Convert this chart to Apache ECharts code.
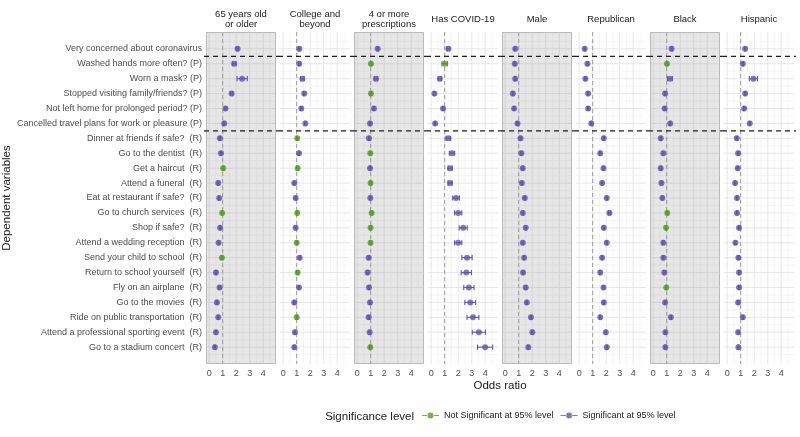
<!DOCTYPE html>
<html>
<head>
<meta charset="utf-8">
<title>Odds ratios by group</title>
<script src="https://cdn.jsdelivr.net/npm/echarts@6.0.0/dist/echarts.min.js"></script>
<style>
  html, body { margin: 0; padding: 0; background: #fff; }
  #chart { width: 800px; height: 437px; }
</style>
</head>
<body>
<div id="chart"></div>
<script>
// dependent variables, top to bottom
const rows = [
  'Very concerned about coronavirus',
  'Washed hands more often? (P)',
  'Worn a mask? (P)',
  'Stopped visiting family/friends? (P)',
  'Not left home for prolonged period? (P)',
  'Cancelled travel plans for work or pleasure (P)',
  'Dinner at friends if safe?  (R)',
  'Go to the dentist  (R)',
  'Get a haircut  (R)',
  'Attend a funeral  (R)',
  'Eat at restaurant if safe?  (R)',
  'Go to church services  (R)',
  'Shop if safe?  (R)',
  'Attend a wedding reception  (R)',
  'Send your child to school  (R)',
  'Return to school yourself  (R)',
  'Fly on an airplane  (R)',
  'Go to the movies  (R)',
  'Ride on public transportation  (R)',
  'Attend a professional sporting event  (R)',
  'Go to a stadium concert  (R)'
];

const panelTitles = ['65 years old\nor older', 'College and\nbeyond', '4 or more\nprescriptions',
  'Has COVID-19', 'Male', 'Republican', 'Black', 'Hispanic'];
const xTicks = [0, 1, 2, 3, 4];
const separators = [1.5, 6.5];
const refLine = 1;

// odds ratio estimates per group
const or65      = [2.10, 1.85, 2.44, 1.66, 1.21, 1.11, 0.79, 0.87, 1.04, 0.67, 0.74, 0.96, 0.81, 0.70, 0.94, 0.50, 0.77, 0.57, 0.67, 0.50, 0.42];
const orCollege = [1.19, 1.19, 1.42, 1.56, 1.34, 1.64, 1.04, 1.17, 1.07, 0.82, 0.92, 1.04, 0.92, 1.00, 1.22, 1.07, 1.17, 0.82, 1.00, 0.87, 0.82];
const orRx      = [1.52, 1.02, 1.39, 1.02, 1.24, 0.95, 0.87, 0.97, 0.95, 0.99, 0.97, 1.07, 0.99, 0.99, 0.85, 0.77, 0.87, 0.95, 0.85, 0.92, 0.97];
const orCovid   = [1.27, 1.00, 0.64, 0.24, 0.88, 0.29, 1.27, 1.54, 1.40, 1.40, 1.84, 2.00, 2.37, 2.00, 2.65, 2.60, 2.79, 2.89, 3.09, 3.53, 3.99];
const orMale    = [0.74, 0.71, 0.74, 0.57, 0.66, 0.91, 1.14, 1.20, 1.30, 1.23, 1.45, 1.30, 1.52, 1.30, 1.40, 1.32, 1.52, 1.60, 1.91, 2.01, 1.71];
const orRep     = [0.41, 0.61, 0.46, 0.66, 0.66, 0.90, 1.82, 1.56, 1.80, 1.70, 2.04, 2.24, 1.82, 2.04, 1.70, 1.56, 1.80, 1.82, 1.56, 1.97, 2.04];
const orBlack   = [1.36, 1.02, 1.24, 0.88, 0.85, 1.26, 0.56, 0.75, 0.56, 0.61, 0.68, 1.04, 0.95, 0.75, 0.75, 0.82, 0.97, 0.88, 1.31, 0.90, 0.90];
const orHisp    = [1.33, 1.16, 1.94, 1.33, 1.26, 1.67, 0.71, 0.81, 0.78, 0.59, 0.73, 0.73, 0.88, 0.61, 0.83, 0.88, 0.88, 0.81, 1.16, 0.81, 0.83];

// 95% CI half widths
const ci65      = [0.06, 0.13, 0.38, 0.08, 0.05, 0.05, 0.05, 0.05, 0.05, 0.05, 0.05, 0.05, 0.05, 0.05, 0.05, 0.05, 0.05, 0.05, 0.05, 0.05, 0.05];
const ciCollege = [0.05, 0.05, 0.13, 0.06, 0.05, 0.05, 0.05, 0.05, 0.05, 0.05, 0.05, 0.05, 0.05, 0.05, 0.05, 0.05, 0.05, 0.05, 0.05, 0.05, 0.05];
const ciRx      = [0.05, 0.05, 0.12, 0.05, 0.05, 0.05, 0.05, 0.05, 0.05, 0.05, 0.05, 0.05, 0.05, 0.05, 0.05, 0.05, 0.05, 0.05, 0.05, 0.05, 0.05];
const ciCovid   = [0.10, 0.21, 0.10, 0.05, 0.05, 0.05, 0.17, 0.20, 0.15, 0.15, 0.25, 0.27, 0.30, 0.27, 0.38, 0.38, 0.38, 0.40, 0.44, 0.49, 0.56];
const ciMale    = [0.05, 0.05, 0.05, 0.05, 0.05, 0.05, 0.05, 0.05, 0.05, 0.05, 0.05, 0.05, 0.05, 0.05, 0.05, 0.05, 0.05, 0.05, 0.05, 0.05, 0.05];
const ciRep     = [0.05, 0.05, 0.05, 0.05, 0.05, 0.05, 0.05, 0.05, 0.05, 0.05, 0.05, 0.08, 0.05, 0.05, 0.05, 0.05, 0.05, 0.05, 0.05, 0.05, 0.05];
const ciBlack   = [0.05, 0.06, 0.18, 0.05, 0.05, 0.05, 0.05, 0.05, 0.05, 0.05, 0.05, 0.05, 0.05, 0.05, 0.05, 0.05, 0.05, 0.05, 0.05, 0.05, 0.05];
const ciHisp    = [0.05, 0.05, 0.30, 0.05, 0.05, 0.05, 0.05, 0.05, 0.05, 0.05, 0.05, 0.05, 0.05, 0.05, 0.05, 0.05, 0.05, 0.05, 0.05, 0.05, 0.05];

// rows (index) not significant at 95%
const ns65      = [8, 11, 14];
const nsCollege = [6, 8, 11, 13, 15, 18];
const nsRx      = [1, 3, 7, 9, 11, 12, 13, 20];
const nsCovid   = [1];
const nsMale    = [];
const nsRep     = [];
const nsBlack   = [1, 11, 12, 16];
const nsHisp    = [];

const estimates = [or65, orCollege, orRx, orCovid, orMale, orRep, orBlack, orHisp];
const halfWidths = [ci65, ciCollege, ciRx, ciCovid, ciMale, ciRep, ciBlack, ciHisp];
const notSig = [ns65, nsCollege, nsRx, nsCovid, nsMale, nsRep, nsBlack, nsHisp];

const NS_NAME = 'Not Significant at 95% level';
const SIG_NAME = 'Significant at 95% level';
const GREEN = '#539b22';
const PURPLE = '#6353b2';
const FONT = '"Liberation Sans", Arial, sans-serif';

// layout
const GRID_LEFT = 206;
const GRID_STEP = 74;
const GRID_W = 70;
const GRID_TOP = 32;
const GRID_H = 332;
const X_MIN = -0.235;
const X_MAX = 4.945;
const Y_MIN = -0.13;
const Y_MAX = 22.13;

const LEGEND_ICON = 'path://M0,4L5,4L5,5L0,5Z M9,4L14,4L14,5L9,5Z M4.5,4.5A2.5,2.5 0 1 0 9.5,4.5A2.5,2.5 0 1 0 4.5,4.5Z';

// panel background + grid lines + reference line
const renderPanel = (shaded) => (params, api) => {
  const p0 = api.coord([X_MIN, Y_MIN]);
  const p1 = api.coord([X_MAX, Y_MAX]);
  const x0 = Math.min(p0[0], p1[0]);
  const x1 = Math.max(p0[0], p1[0]);
  const y0 = Math.min(p0[1], p1[1]);
  const y1 = Math.max(p0[1], p1[1]);
  const children = [];
  if (shaded) {
    children.push({ type: 'rect', shape: { x: x0, y: y0, width: x1 - x0, height: y1 - y0 }, style: { fill: '#e6e6e6' } });
  }
  const major = shaded ? '#d0d0d0' : '#e4e4e4';
  const minor = shaded ? '#dadada' : '#efefef';
  xTicks.forEach((t) => {
    [t, t + 0.5].forEach((v, j) => {
      const x = api.coord([v, Y_MIN])[0];
      children.push({ type: 'line', shape: { x1: x, y1: y0, x2: x, y2: y1 },
        style: { stroke: j ? minor : major, lineWidth: j ? 0.6 : 0.9 } });
    });
  });
  rows.forEach((_, i) => {
    [i + 1, i + 0.5, i + 1.5].forEach((v, j) => {
      if (j === 2 && i < rows.length - 1) return;
      const y = api.coord([X_MIN, v])[1];
      children.push({ type: 'line', shape: { x1: x0, y1: y, x2: x1, y2: y },
        style: { stroke: j ? minor : major, lineWidth: j ? 0.6 : 0.9 } });
    });
  });
  const xr = api.coord([refLine, Y_MIN])[0];
  children.push({ type: 'line', shape: { x1: xr, y1: y0, x2: xr, y2: y1 },
    style: { stroke: '#9c9c9c', lineWidth: 1, lineDash: [4, 3] } });
  if (shaded) {
    children.push({ type: 'rect', shape: { x: x0 + 0.5, y: y0 + 0.5, width: x1 - x0 - 1, height: y1 - y0 - 1 },
      style: { fill: 'none', stroke: '#b9b9b9', lineWidth: 1 } });
  }
  return { type: 'group', children };
};

const renderErrorBar = (params, api) => {
  const row = api.value(2);
  const a = api.coord([api.value(0), row]);
  const b = api.coord([api.value(1), row]);
  const style = { stroke: api.value(3) ? GREEN : PURPLE, lineWidth: 1.1 };
  const cap = 2.6;
  return {
    type: 'group',
    children: [
      { type: 'line', shape: { x1: a[0], y1: a[1], x2: b[0], y2: b[1] }, style },
      { type: 'line', shape: { x1: a[0], y1: a[1] - cap, x2: a[0], y2: a[1] + cap }, style },
      { type: 'line', shape: { x1: b[0], y1: b[1] - cap, x2: b[0], y2: b[1] + cap }, style }
    ]
  };
};

const renderSeparator = (params, api) => {
  const v = api.value(1);
  const left = api.coord([X_MIN, v]);
  const right = api.coord([X_MAX, v]);
  return {
    type: 'line',
    shape: { x1: left[0] - 2, y1: left[1], x2: right[0] + 2, y2: right[1] },
    style: { stroke: '#1f1f1f', lineWidth: 1.2, lineDash: [5, 4] }
  };
};

const buildOption = () => {
  const grids = [];
  const xAxes = [];
  const yAxes = [];
  const series = [];
  const graphics = [];

  panelTitles.forEach((title, k) => {
    const left = GRID_LEFT + GRID_STEP * k;
    grids.push({ left, top: GRID_TOP, width: GRID_W, height: GRID_H });
    xAxes.push({
      type: 'value', gridIndex: k, min: X_MIN, max: X_MAX,
      axisLine: { show: false }, axisTick: { show: false }, splitLine: { show: false },
      axisLabel: { customValues: xTicks, fontSize: 9, color: '#4d4d4d', fontFamily: FONT, margin: 5 }
    });
    yAxes.push({
      type: 'value', gridIndex: k, min: Y_MIN, max: Y_MAX, inverse: true,
      show: k === 0,
      axisLine: { show: false }, axisTick: { show: false }, splitLine: { show: false },
      axisLabel: {
        customValues: rows.map((_, i) => i + 1),
        formatter: (v) => rows[Math.round(v) - 1] || '',
        fontSize: 9, color: '#4d4d4d', fontFamily: FONT, margin: 4
      },
      name: k === 0 ? 'Dependent variables' : '',
      nameLocation: 'middle', nameRotate: 90, nameGap: 192,
      nameTextStyle: { fontSize: 11.5, color: '#1a1a1a', fontFamily: FONT }
    });

    const est = estimates[k];
    const hw = halfWidths[k];
    const ns = notSig[k];

    series.push({
      type: 'custom', xAxisIndex: k, yAxisIndex: k, silent: true, clip: false, z: 0,
      data: [[0, 0]], renderItem: renderPanel(k % 2 === 0)
    });
    series.push({
      type: 'custom', xAxisIndex: k, yAxisIndex: k, silent: true, z: 2,
      data: est.map((v, i) => [v - hw[i], v + hw[i], i + 1, ns.includes(i) ? 1 : 0]),
      renderItem: renderErrorBar
    });
    series.push({
      name: NS_NAME, type: 'scatter', xAxisIndex: k, yAxisIndex: k, z: 3,
      symbol: 'circle', symbolSize: 6, itemStyle: { color: GREEN },
      data: est.map((v, i) => [v, i + 1]).filter((_, i) => ns.includes(i))
    });
    series.push({
      name: SIG_NAME, type: 'scatter', xAxisIndex: k, yAxisIndex: k, z: 3,
      symbol: 'circle', symbolSize: 6, itemStyle: { color: PURPLE },
      data: est.map((v, i) => [v, i + 1]).filter((_, i) => !ns.includes(i))
    });
    series.push({
      type: 'custom', xAxisIndex: k, yAxisIndex: k, silent: true, clip: false, z: 4,
      data: separators.map((v) => [0, v]), renderItem: renderSeparator
    });

    graphics.push({
      type: 'text', x: left + GRID_W / 2, y: 19.5,
      style: { text: title, fontSize: 9.5, lineHeight: 10, fill: '#1a1a1a', fontFamily: FONT,
        align: 'center', verticalAlign: 'middle' }
    });
  });

  graphics.push({
    type: 'text', x: 500, y: 386,
    style: { text: 'Odds ratio', fontSize: 11.5, fill: '#1a1a1a', fontFamily: FONT, align: 'center', verticalAlign: 'middle' }
  });
  graphics.push({
    type: 'text', x: 414, y: 417,
    style: { text: 'Significance level', fontSize: 11.5, fill: '#1a1a1a', fontFamily: FONT, align: 'right', verticalAlign: 'middle' }
  });

  return {
    animation: false,
    grid: grids,
    xAxis: xAxes,
    yAxis: yAxes,
    series,
    graphic: graphics,
    legend: {
      left: 417, top: 406,
      itemWidth: 17, itemHeight: 7, itemGap: 7,
      selectedMode: false,
      textStyle: { fontSize: 9, color: '#1a1a1a', fontFamily: FONT },
      data: [{ name: NS_NAME, icon: LEGEND_ICON }, { name: SIG_NAME, icon: LEGEND_ICON }]
    }
  };
};

const chart = echarts.init(document.getElementById('chart'));
chart.setOption(buildOption());
</script>
</body>
</html>
